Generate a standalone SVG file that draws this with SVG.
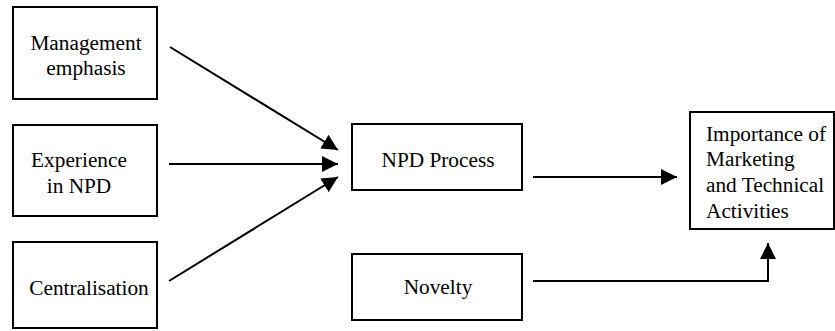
<svg xmlns="http://www.w3.org/2000/svg" width="835" height="331" viewBox="0 0 835 331">
<style>
.box{fill:#fff;stroke:#000;stroke-width:2}
.t{font-family:"Liberation Serif","Times New Roman",serif;font-size:21.3px;fill:#000}
.c{text-anchor:middle}
.ln{fill:none;stroke:#000;stroke-width:2}
</style>
<defs>
<marker id="ah" markerUnits="userSpaceOnUse" markerWidth="17" markerHeight="16" refX="16" refY="8" orient="auto" viewBox="0 0 17 16">
<path d="M0,0 L16,8 L0,16 z" fill="#000"/>
</marker>
</defs>
<rect width="835" height="331" fill="#fff"/>
<g id="management">
<rect class="box" x="13" y="7" width="144" height="92"/>
<text class="t c" x="86" y="50">Management</text>
<text class="t c" x="86" y="75">emphasis</text>
</g>
<g id="experience">
<rect class="box" x="13" y="125" width="144" height="91"/>
<text class="t c" x="79" y="167">Experience</text>
<text class="t c" x="79" y="193">in NPD</text>
</g>
<g id="centralisation">
<rect class="box" x="13" y="242" width="144" height="86"/>
<text class="t c" x="89" y="295">Centralisation</text>
</g>
<g id="npd">
<rect class="box" x="352" y="124" width="170" height="66"/>
<text class="t c" x="438" y="167">NPD Process</text>
</g>
<g id="novelty">
<rect class="box" x="352" y="254" width="170" height="66"/>
<text class="t c" x="438" y="294">Novelty</text>
</g>
<g id="importance">
<rect class="box" x="690" y="112" width="144" height="117"/>
<text class="t" x="706" y="141">Importance of</text>
<text class="t" x="706" y="166">Marketing</text>
<text class="t" x="706" y="192">and Technical</text>
<text class="t" x="706" y="218">Activities</text>
</g>
<g id="connectors">
<line class="ln" x1="170" y1="47" x2="338" y2="150" marker-end="url(#ah)"/>
<line class="ln" x1="169" y1="164" x2="338" y2="164" marker-end="url(#ah)"/>
<line class="ln" x1="169" y1="281" x2="338" y2="177" marker-end="url(#ah)"/>
<line class="ln" x1="533" y1="177" x2="677" y2="177" marker-end="url(#ah)"/>
<polyline class="ln" points="533,281 768,281 768,243" marker-end="url(#ah)"/>
</g>
</svg>
